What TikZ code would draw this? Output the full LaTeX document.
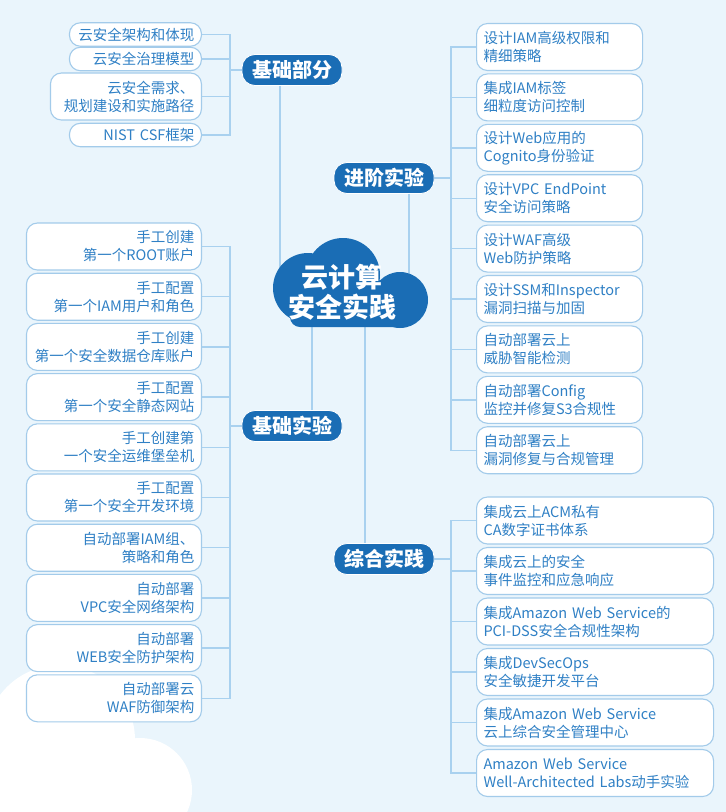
\documentclass[tikz,border=0pt]{standalone}
\usepackage{fontspec}
\setmainfont{Noto Sans CJK SC}
\definecolor{bgblue}{HTML}{EAF5FC}
\definecolor{hubblue}{HTML}{1A6DB5}
\definecolor{boxline}{HTML}{A3CBEA}
\definecolor{boxtext}{HTML}{2F80C5}
\definecolor{linkblue}{HTML}{A9D1EF}
\begin{document}
\begin{tikzpicture}[x=1pt,y=-1pt]
\tikzstyle{hub}=[fill=hubblue,draw=white,line width=0.8pt,rounded corners=13pt,text=white,font=\fontsize{20}{22}\selectfont\bfseries,minimum width=100pt,minimum height=31pt,inner sep=0pt]
\tikzstyle{leaf}=[fill=white,draw=boxline,line width=1.1pt,rounded corners=11pt,text=boxtext,font=\fontsize{14.5}{18}\selectfont,minimum height=47pt,inner xsep=7pt,inner ysep=0pt]
\tikzstyle{lleaf}=[leaf,anchor=east,align=right]
\tikzstyle{rleaf}=[leaf,anchor=west,align=left]
\tikzstyle{bfleaf}=[lleaf,text width=118pt,minimum height=23.5pt]
\tikzstyle{syleaf}=[lleaf,text width=161pt]
\tikzstyle{jjleaf}=[rleaf,text width=152pt]
\tikzstyle{zhleaf}=[rleaf,text width=223pt]
\tikzstyle{link}=[draw=linkblue,line width=1.4pt]
\fill[bgblue] (0,0) rectangle (726,812);
\useasboundingbox (0,0) rectangle (726,812);
% white cloud in the corner
\fill[white] (60,740) circle (75pt) (140,790) circle (52pt) (0,740) rectangle (140,812);
% bracket columns and cloud ends
\coordinate (bkL) at (230,0);
\coordinate (bkR) at (451,0);
\coordinate (cbf) at (280,285);
\coordinate (cjj) at (409,300);
\coordinate (cjs) at (312,310);
\coordinate (czh) at (365,310);
% main topics
\node[hub] at (292,70) (jcbf) {基础部分};
\node[hub] at (384,178) (jjsy) {进阶实验};
\node[hub] at (292,426) (jcsy) {基础实验};
\node[hub] at (384,559) (zhsj) {综合实践};
% 基础部分
\node[bfleaf] at (202,34.5) (bf1) {云安全架构和体现};
\node[bfleaf] at (202,59) (bf2) {云安全治理模型};
\node[bfleaf,text width=137pt,minimum height=47pt] at (202,96.5) (bf3) {云安全需求、\\规划建设和实施路径};
\node[bfleaf] at (202,135) (bf4) {NIST CSF框架};
% 基础实验
\node[syleaf] at (202,246.5) (sy1) {手工创建\\第一个ROOT账户};
\node[syleaf] at (202,296.7) (sy2) {手工配置\\第一个IAM用户和角色};
\node[syleaf] at (202,346.9) (sy3) {手工创建\\第一个安全数据仓库账户};
\node[syleaf] at (202,397.1) (sy4) {手工配置\\第一个安全静态网站};
\node[syleaf] at (202,447.3) (sy5) {手工创建第\\一个安全运维堡垒机};
\node[syleaf] at (202,497.5) (sy6) {手工配置\\第一个安全开发环境};
\node[syleaf] at (202,547.7) (sy7) {自动部署IAM组、\\策略和角色};
\node[syleaf] at (202,597.9) (sy8) {自动部署\\VPC安全网络架构};
\node[syleaf] at (202,648.1) (sy9) {自动部署\\WEB安全防护架构};
\node[syleaf] at (202,698.3) (sy10) {自动部署云\\WAF防御架构};
% 进阶实验
\node[jjleaf] at (476,47) (jj1) {设计IAM高级权限和\\精细策略};
\node[jjleaf] at (476,97.4) (jj2) {集成IAM标签\\细粒度访问控制};
\node[jjleaf] at (476,147.8) (jj3) {设计Web应用的\\Cognito身份验证};
\node[jjleaf] at (476,198.2) (jj4) {设计VPC EndPoint\\安全访问策略};
\node[jjleaf] at (476,248.6) (jj5) {设计WAF高级\\Web防护策略};
\node[jjleaf] at (476,299) (jj6) {设计SSM和Inspector\\漏洞扫描与加固};
\node[jjleaf] at (476,349.4) (jj7) {自动部署云上\\威胁智能检测};
\node[jjleaf] at (476,399.8) (jj8) {自动部署Config\\监控并修复S3合规性};
\node[jjleaf] at (476,450.2) (jj9) {自动部署云上\\漏洞修复与合规管理};
% 综合实践
\node[zhleaf] at (476,520.5) (zh1) {集成云上ACM私有\\CA数字证书体系};
\node[zhleaf] at (476,571) (zh2) {集成云上的安全\\事件监控和应急响应};
\node[zhleaf] at (476,621.5) (zh3) {集成Amazon Web Service的\\PCI-DSS安全合规性架构};
\node[zhleaf] at (476,672) (zh4) {集成DevSecOps\\安全敏捷开发平台};
\node[zhleaf] at (476,722.5) (zh5) {集成Amazon Web Service\\云上综合安全管理中心};
\node[zhleaf] at (476,773) (zh6) {Amazon Web Service\\Well-Architected Labs动手实验};
% links
\draw[link] (bf1.east) -- (bf1.east -| bkL) -- (bf4.east -| bkL) -- (bf4.east)
  (bf2.east) -- (bf2.east -| bkL) (bf3.east) -- (bf3.east -| bkL)
  (jcbf.west) -- (jcbf.west -| bkL);
\draw[link] (sy1.east) -- (sy1.east -| bkL) -- (sy10.east -| bkL) -- (sy10.east)
  (sy2.east) -- (sy2.east -| bkL) (sy3.east) -- (sy3.east -| bkL)
  (sy4.east) -- (sy4.east -| bkL) (sy5.east) -- (sy5.east -| bkL)
  (sy6.east) -- (sy6.east -| bkL) (sy7.east) -- (sy7.east -| bkL)
  (sy8.east) -- (sy8.east -| bkL) (sy9.east) -- (sy9.east -| bkL)
  (jcsy.west) -- (jcsy.west -| bkL);
\draw[link] (jj1.west) -- (jj1.west -| bkR) -- (jj9.west -| bkR) -- (jj9.west)
  (jj2.west) -- (jj2.west -| bkR) (jj3.west) -- (jj3.west -| bkR)
  (jj4.west) -- (jj4.west -| bkR) (jj5.west) -- (jj5.west -| bkR)
  (jj6.west) -- (jj6.west -| bkR) (jj7.west) -- (jj7.west -| bkR)
  (jj8.west) -- (jj8.west -| bkR)
  (jjsy.east) -- (jjsy.east -| bkR);
\draw[link] (zh1.west) -- (zh1.west -| bkR) -- (zh6.west -| bkR) -- (zh6.west)
  (zh2.west) -- (zh2.west -| bkR) (zh3.west) -- (zh3.west -| bkR)
  (zh4.west) -- (zh4.west -| bkR) (zh5.west) -- (zh5.west -| bkR)
  (zhsj.east) -- (zhsj.east -| bkR);
\draw[link] (jcbf.south -| cbf) -- (cbf);
\draw[link] (jjsy.south -| cjj) -- (cjj);
\draw[link] (cjs) -- (jcsy.north -| cjs);
\draw[link] (czh) -- (zhsj.north -| czh);
% the cloud
\fill[hubblue] (308,288) circle (35pt) (343,275) circle (37pt) (400,300) circle (28pt);
\fill[hubblue,rounded corners=10pt] (290,290) rectangle (410,327);
\node[text=white,align=center,font=\fontsize{27}{30}\selectfont\bfseries] at (342,292) (cloud) {云计算\\安全实践};
\end{tikzpicture}
\end{document}
